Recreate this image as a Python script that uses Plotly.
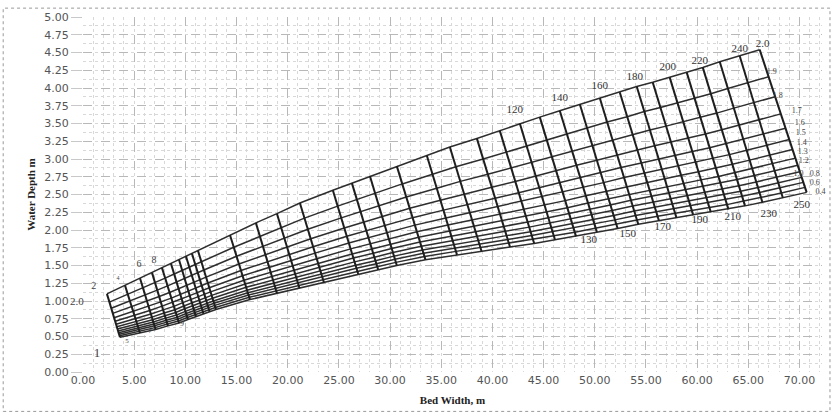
import plotly.graph_objects as go

# ---- data ----
# discharge lines (roughly vertical) : end points on the top (2.0) and bottom (0.4) curves
Q_LINES = [1, 2, 3, 4, 5, 6, 7, 8, 9, 10, 15, 20, 25, 30, 40, 50, 60, 70, 80, 90, 100,
           110, 120, 130, 140, 150, 160, 170, 180, 190, 200, 210, 220, 230, 240, 250]
B_TOP = [2.34, 4.10, 5.57, 6.74, 7.71, 8.59, 9.38, 10.06, 10.64, 11.23, 14.36, 16.89, 18.95,
         21.19, 24.41, 26.27, 28.03, 30.66, 33.59, 35.84, 38.48, 40.72, 42.68, 44.63, 46.58,
         48.54, 50.49, 52.44, 54.10, 55.66, 57.32, 58.98, 60.55, 62.21, 64.16, 66.11]
D_TOP = [1.10, 1.22, 1.32, 1.40, 1.47, 1.53, 1.58, 1.63, 1.67, 1.71, 1.93, 2.10, 2.23, 2.38,
         2.56, 2.66, 2.76, 2.90, 3.05, 3.17, 3.29, 3.40, 3.50, 3.59, 3.68, 3.77, 3.86, 3.94,
         4.02, 4.08, 4.15, 4.22, 4.29, 4.37, 4.45, 4.54]
B_BOT = [3.61, 5.57, 7.09, 8.30, 9.38, 10.25, 11.04, 11.77, 12.37, 12.99, 16.31, 18.95, 21.15,
         23.54, 26.89, 28.84, 30.66, 33.46, 36.54, 38.94, 41.72, 44.08, 46.12, 48.17, 50.21,
         52.23, 54.25, 56.27, 57.99, 59.62, 61.34, 63.06, 64.68, 66.38, 68.38, 70.70]
D_BOT = [0.49, 0.55, 0.60, 0.65, 0.69, 0.74, 0.78, 0.82, 0.85, 0.88, 1.02, 1.11, 1.18, 1.26,
         1.38, 1.44, 1.50, 1.58, 1.65, 1.70, 1.76, 1.81, 1.86, 1.91, 1.97, 2.02, 2.08, 2.13,
         2.17, 2.21, 2.25, 2.29, 2.34, 2.39, 2.45, 2.53]

# parameter curves (roughly horizontal): relative position along each discharge line (0 = top)
PARAMS = [2.0, 1.9, 1.8, 1.7, 1.6, 1.5, 1.4, 1.3, 1.2, 1.1, 1.0, 0.8, 0.6, 0.4]
PARAM_FRAC = [0.0, 0.19, 0.33, 0.45, 0.55, 0.63, 0.70, 0.76, 0.81, 0.855, 0.895, 0.93, 0.965, 1.0]

# labels as printed on the chart
TOP_Q_LABELS = ["120", "140", "160", "180", "200", "220", "240", "2.0"]
TOP_Q_X = [42.19, 46.58, 50.49, 53.91, 57.13, 60.25, 64.16, 66.41]
TOP_Q_Y = [3.68, 3.85, 4.03, 4.15, 4.29, 4.38, 4.54, 4.61]

BOT_Q_LABELS = ["130", "150", "170", "190", "210", "230", "250"]
BOT_Q_X = [49.41, 53.22, 56.64, 60.25, 63.48, 66.99, 70.21]
BOT_Q_Y = [1.86, 1.94, 2.04, 2.14, 2.18, 2.22, 2.35]

RIGHT_P_LABELS = ["1.9", "1.8", "1.7", "1.6", "1.5", "1.4", "1.3", "1.2", "1.0", "0.8", "0.6", "0.4"]
RIGHT_P_X = [67.29, 67.87, 69.73, 70.02, 70.12, 70.21, 70.31, 70.41, 69.90, 71.48, 71.48, 72.05]
RIGHT_P_Y = [4.22, 3.89, 3.68, 3.51, 3.37, 3.23, 3.10, 2.97, 2.79, 2.79, 2.66, 2.54]

LEFT_LABELS = ["2", "4", "6", "8", "1", "5", "7", "9"]
LEFT_X = [1.05, 3.42, 5.47, 6.93, 1.37, 4.30, 6.54, 9.67]
LEFT_Y = [1.20, 1.32, 1.51, 1.57, 0.26, 0.44, 0.57, 0.68]
LEFT_PARAM_LABEL = "2.0"          # printed just left of the plot, next to the 1.00 tick
LEFT_PARAM_POS = (-0.008, 0.199)  # paper position

X_TICKS = [0, 5, 10, 15, 20, 25, 30, 35, 40, 45, 50, 55, 60, 65, 70]
Y_TICKS = [0, 0.25, 0.5, 0.75, 1.0, 1.25, 1.5, 1.75, 2.0, 2.25, 2.5, 2.75, 3.0, 3.25,
           3.5, 3.75, 4.0, 4.25, 4.5, 4.75, 5.0]

# ---- build node grid ----
def node(i, f):
    return (B_TOP[i] + f * (B_BOT[i] - B_TOP[i]), D_TOP[i] + f * (D_BOT[i] - D_TOP[i]))

qx, qy = [], []
for i in range(len(Q_LINES)):
    for f in PARAM_FRAC:
        b, d = node(i, f)
        qx.append(b); qy.append(d)
    qx.append(None); qy.append(None)

px, py = [], []
for f in PARAM_FRAC:
    for i in range(len(Q_LINES)):
        b, d = node(i, f)
        px.append(b); py.append(d)
    px.append(None); py.append(None)

fig = go.Figure()
fig.add_trace(go.Scatter(x=px, y=py, mode="lines", line=dict(color="#2e2e2e", width=1.5),
                         hoverinfo="skip", showlegend=False, cliponaxis=False))
fig.add_trace(go.Scatter(x=qx, y=qy, mode="lines", line=dict(color="#1e1e1e", width=2.0),
                         hoverinfo="skip", showlegend=False, cliponaxis=False))

serif = "Liberation Serif"
fig.add_trace(go.Scatter(x=TOP_Q_X, y=TOP_Q_Y, text=TOP_Q_LABELS, mode="text",
                         textfont=dict(family=serif, size=11, color="#333"),
                         showlegend=False, hoverinfo="skip", cliponaxis=False))
fig.add_trace(go.Scatter(x=BOT_Q_X, y=BOT_Q_Y, text=BOT_Q_LABELS, mode="text",
                         textfont=dict(family=serif, size=11, color="#333"),
                         showlegend=False, hoverinfo="skip", cliponaxis=False))
fig.add_trace(go.Scatter(x=RIGHT_P_X, y=RIGHT_P_Y, text=RIGHT_P_LABELS, mode="text",
                         textfont=dict(family=serif, size=8, color="#444"),
                         showlegend=False, hoverinfo="skip", cliponaxis=False))
fig.add_trace(go.Scatter(x=LEFT_X, y=LEFT_Y, text=LEFT_LABELS, mode="text",
                         textfont=dict(family=serif, size=[10, 6, 10, 10, 13, 7, 7, 8], color="#444"),
                         showlegend=False, hoverinfo="skip", cliponaxis=False))

tickfont = dict(family="DejaVu Sans", size=11, color="#555")
fig.update_layout(
    width=833, height=417,
    margin=dict(l=83, r=11, t=12, b=45),
    paper_bgcolor="white", plot_bgcolor="white",
    showlegend=False,
    xaxis=dict(range=[0, 72.2], tickvals=X_TICKS, ticktext=["%.2f" % v for v in X_TICKS],
               tickfont=tickfont, showgrid=True, gridcolor="#b8b8b8", griddash="dash", gridwidth=1,
               zeroline=False, showline=False, ticks="",
               minor=dict(dtick=1, showgrid=True, gridcolor="#d8d8d8", griddash="dot", gridwidth=1),
               title=dict(text="Bed Width, m", font=dict(family=serif, size=11, color="#222",
                                                          weight="bold"), standoff=10)),
    yaxis=dict(range=[0, 5], tickvals=Y_TICKS, ticktext=["%.2f" % v for v in Y_TICKS],
               tickfont=tickfont, showgrid=True, gridcolor="#b8b8b8", griddash="dash", gridwidth=1,
               zeroline=False, showline=False, ticks="outside", ticklen=11, tickcolor="#c8c8c8",
               minor=dict(dtick=0.125, showgrid=True, gridcolor="#d8d8d8", griddash="dot", gridwidth=1),
               title=dict(text="Water Depth m", font=dict(family=serif, size=11, color="#222",
                                                           weight="bold"), standoff=6)),
    shapes=[dict(type="rect", xref="paper", yref="paper", x0=-0.108, x1=1.0108, y0=-0.111, y1=1.025,
                 line=dict(color="#999", width=1, dash="dot"), layer="below")],
    annotations=[dict(text=LEFT_PARAM_LABEL, xref="paper", yref="paper",
                      x=LEFT_PARAM_POS[0], y=LEFT_PARAM_POS[1], xanchor="center", yanchor="middle",
                      showarrow=False, font=dict(family=serif, size=11, color="#444"))],
)

fig.write_html("out.html", config={"displayModeBar": False},
               post_script="document.body.style.margin='0px';")
